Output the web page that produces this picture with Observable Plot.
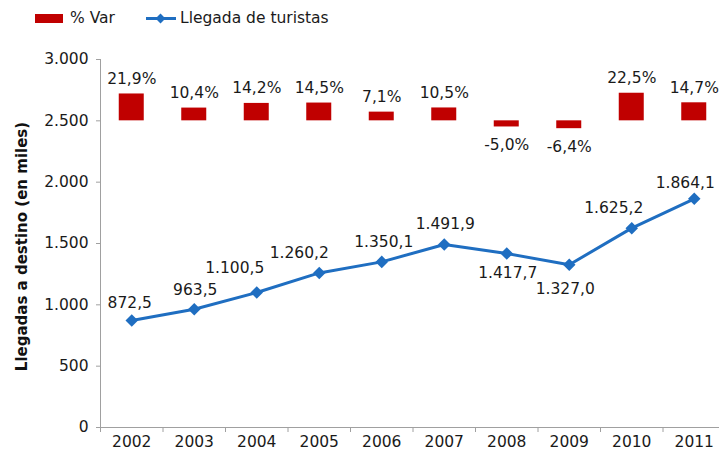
<!DOCTYPE html>
<html>
<head>
<meta charset="utf-8">
<script src="https://cdn.jsdelivr.net/npm/d3@7"></script>
<script src="https://cdn.jsdelivr.net/npm/@observablehq/plot@0.6"></script>
<style>
  html, body { margin: 0; padding: 0; background: #fff; }
  #wrap { position: relative; width: 719px; height: 456px; overflow: hidden; font-family: "DejaVu Sans", Verdana, sans-serif; color: #1a1a1a; }
  #legend { position: relative; width: 719px; height: 36px; font-size: 15.5px; }
  #legend .item { position: absolute; top: 8px; line-height: 20px; white-space: nowrap; }
  #legend .sw-bar { position: absolute; left: 35px; top: 14px; width: 28px; height: 9px; background: #C00000; }
  #legend .sw-line { position: absolute; left: 146px; top: 17px; width: 30px; height: 3px; background: #1F6EC1; }
  #legend .sw-dot { position: absolute; left: 157px; top: 15px; width: 7px; height: 7px; background: #1F6EC1; transform: rotate(45deg); }
</style>
</head>
<body>
<div id="wrap">
  <div id="legend">
    <div class="sw-bar"></div>
    <div class="item" style="left:70px">% Var</div>
    <div class="sw-line"></div>
    <div class="sw-dot"></div>
    <div class="item" style="left:180px">Llegada de turistas</div>
  </div>
  <div id="chart"></div>
</div>
<script>
// ---- data ----
const years = [2002, 2003, 2004, 2005, 2006, 2007, 2008, 2009, 2010, 2011];
const arrivals = [872.5, 963.5, 1100.5, 1260.2, 1350.1, 1491.9, 1417.7, 1327.0, 1625.2, 1864.1];
const pctVar = [21.9, 10.4, 14.2, 14.5, 7.1, 10.5, -5.0, -6.4, 22.5, 14.7];
const yTicks = [0, 500, 1000, 1500, 2000, 2500, 3000];
const yTitle = "Llegadas a destino (en miles)";

// ---- styling ----
const barBase = 2500;     // bars are drawn from this level of the axis
const barScale = 10;      // axis units per percentage point
const barColor = "#C00000";
const lineColor = "#1F6EC1";
const axisGray = "#A0A0A0";
const textColor = "#1a1a1a";
// label offsets [dx, dy] for each point label of the line
const labelOffsets = [[-2, -17], [1, -19], [-22, -24], [-20, -20], [2, -20], [1, -20], [1, 19], [-4, 24], [-18, -20], [-9, -16]];

const locale = d3.formatLocale({decimal: ",", thousands: ".", grouping: [3], currency: ["", "€"], minus: "-"});
const fmtTick = locale.format(",d");
const fmtVal = locale.format(",.1f");
const fmtPct = v => v.toFixed(1).replace(".", ",") + "%";

const idx = d3.range(years.length);
const boundaries = d3.range(years.length).map(i => years[i] - 0.5);

const labelMarks = idx.map(i => Plot.text([i], {
  x: j => years[j], y: j => arrivals[j], text: j => fmtVal(arrivals[j]),
  dx: labelOffsets[i][0], dy: labelOffsets[i][1], fill: textColor
}));

const chart = Plot.plot({
  width: 719,
  height: 420,
  marginLeft: 100,
  marginRight: -6,
  marginTop: 23,
  marginBottom: 29,
  x: {domain: [years[0] - 0.5, years[years.length - 1] + 0.5]},
  y: {domain: [0, 3000]},
  style: {fontFamily: "'DejaVu Sans', Verdana, sans-serif", fontSize: "15.5px", color: textColor, background: "white", overflow: "visible"},
  marks: [
    Plot.ruleY([0], {stroke: axisGray, strokeWidth: 1}),
    Plot.ruleX([years[0] - 0.5], {stroke: axisGray, strokeWidth: 1}),
    Plot.axisY({ticks: yTicks, tickSize: 4, tickPadding: 8, tickFormat: fmtTick, stroke: axisGray, fill: textColor, label: null}),
    Plot.axisX({ticks: years, tickSize: 0, tickPadding: 8, tickFormat: d => String(d), fill: textColor, label: null}),
    Plot.axisX({ticks: boundaries, tickSize: 5, tickFormat: () => "", stroke: axisGray, label: null}),
    Plot.text([yTitle], {frameAnchor: "left", textAnchor: "middle", rotate: -90, dx: -78, dy: 3, text: d => d, fontWeight: "bold", fontSize: 15, fill: "#111"}),
    Plot.rectY(idx, {
      x1: i => years[i] - 0.2, x2: i => years[i] + 0.2,
      y1: barBase, y2: i => barBase + pctVar[i] * barScale,
      fill: barColor
    }),
    Plot.text(idx.filter(i => pctVar[i] >= 0), {
      x: i => years[i], y: i => barBase + pctVar[i] * barScale, text: i => fmtPct(pctVar[i]),
      dy: -15, fill: textColor
    }),
    Plot.text(idx.filter(i => pctVar[i] < 0), {
      x: i => years[i], y: i => barBase + pctVar[i] * barScale, text: i => fmtPct(pctVar[i]),
      dy: 18, fill: textColor
    }),
    Plot.line(idx, {x: i => years[i], y: i => arrivals[i], stroke: lineColor, strokeWidth: 3}),
    Plot.dot(idx, {x: i => years[i], y: i => arrivals[i], symbol: "square", r: 5, fill: lineColor, rotate: 45}),
    ...labelMarks
  ]
});
document.getElementById("chart").appendChild(chart);
</script>
</body>
</html>
